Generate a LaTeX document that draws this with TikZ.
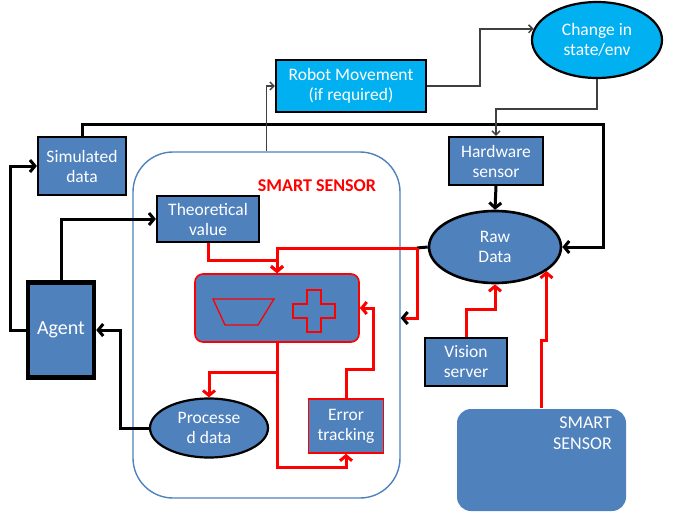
\documentclass[tikz,border=0pt]{standalone}
\usepackage{fontspec}
\setsansfont{Carlito}
\usepackage{tikz}
\usetikzlibrary{arrows.meta, positioning, calc, shapes.geometric}
\definecolor{boxblue}{HTML}{4F81BD}
\definecolor{movecyan}{HTML}{00B0F0}
\definecolor{sensred}{HTML}{FF0000}
\definecolor{wiregray}{HTML}{404040}
\definecolor{framecolor}{HTML}{4F81BD}

\begin{document}
\begin{tikzpicture}[
  x=1pt, y=-1pt,
  block/.style={
    rectangle,
    draw=black,
    line width=2.2pt,
    fill=boxblue,
    text=white,
    align=center,
    inner sep=0pt,
    font=\sffamily\fontsize{17.5}{20}\selectfont
  },
  oval/.style={block, ellipse},
  wire/.style={line width=3pt, -{Straight Barb[length=5pt,width=12pt]}},
  thinwire/.style={wiregray, line width=1.5pt, -{Straight Barb[length=4pt,width=8pt]}},
  redwire/.style={wire, sensred}
]
  \useasboundingbox (0,0) rectangle (678,512);

  % Smart sensor frame
  \node[draw=framecolor, line width=1.4pt, rounded corners=40pt, minimum width=267pt, minimum height=346pt, inner sep=0pt] (smart) at (266.5,325) {};
  \node[text=sensred, font=\sffamily\bfseries\fontsize{18}{20}\selectfont] (smartlbl) at (317,186) {SMART SENSOR};

  % Left column
  \node[block, minimum width=88pt, minimum height=58pt] (sim) at (82,166) {Simulated\\data};
  \node[block, line width=4.5pt, minimum width=66pt, minimum height=95pt, font=\sffamily\fontsize{20}{22}\selectfont] (agent) at (61,330) {Agent};

  % Inside the frame
  \node[block, minimum width=102pt, minimum height=46pt] (theory) at (208,219) {Theoretical\\value};
  \node[block, draw=sensred, line width=1.6pt, rounded corners=8pt, minimum width=164pt, minimum height=68pt] (fuse) at (277,308) {};
  \draw[sensred, line width=1.3pt] (213,299) -- (274,299) -- (258,325) -- (225,325) -- cycle;
  \draw[sensred, line width=1.3pt] (307,290) -- (321,290) -- (321,304) -- (335,304) -- (335,318) -- (321,318)
    -- (321,332) -- (307,332) -- (307,318) -- (293,318) -- (293,304) -- (307,304) -- cycle;
  \node[oval, minimum width=118pt, minimum height=59pt] (procdata) at (209,428) {Processe\\d data};
  \node[block, draw=sensred, line width=1.6pt, minimum width=75pt, minimum height=54pt] (errtrack) at (346,426) {Error\\tracking};

  % Top row
  \node[block, fill=movecyan, minimum width=150pt, minimum height=52pt] (robot) at (351,86) {Robot Movement\\(if required)};
  \node[oval, fill=movecyan, minimum width=130pt, minimum height=76pt] (change) at (597,40) {Change in\\state/env};

  % Right column
  \node[block, minimum width=94pt, minimum height=48pt] (hwsensor) at (496,161) {Hardware\\sensor};
  \node[oval, line width=2.6pt, minimum width=132pt, minimum height=72pt] (raw) at (495,247) {Raw\\Data};
  \node[block, minimum width=82pt, minimum height=48pt] (vision) at (466,362) {Vision\\server};
  \node[block, draw=none, rounded corners=14pt, minimum width=169pt, minimum height=102pt] (smalls) at (541.5,460) {};
  \node[text=white, align=right, anchor=north east, inner sep=0pt, font=\sffamily\fontsize{18}{21}\selectfont] (smallslbl) at (612,417) {SMART\\SENSOR};

  % Black connectors
  \coordinate (busr) at (603,124);
  \draw[wire] (sim.north) |- (busr) |- (raw.east);
  \draw[wire] (agent.north) |- (theory.west);
  \draw[wire] (agent.west) -- ++(-15,0) |- (sim.west);
  \draw[wire] (procdata.west) -- ++(-28,0) |- (agent.east);
  \draw[wire] (hwsensor.south) -- (raw.north);

  % Thin connectors
  \draw[thinwire] (smart.north) |- (robot.west);
  \draw[thinwire] (robot.east) -- ++(53,0) |- (change.170);
  \draw[thinwire] (change.south) -- ++(0,30) -| (hwsensor.north);

  % Red connectors
  \coordinate (rawj) at (417,248);
  \draw[line width=3pt] (raw.west) -- (rawj);
  \draw[redwire] (rawj) -| (fuse.north);
  \draw[redwire, -{Straight Barb[black,length=5pt,width=12pt]}] (rawj) |- ($(smart.east)+(0,-7)$);
  \draw[redwire] (theory.south) -- ++(0,17) -| (fuse.north);
  \draw[redwire] (fuse.south) -- ++(0,30) -| (procdata.north);
  \draw[redwire] (fuse.south) -- ++(0,125) -| (errtrack.south);
  \draw[redwire] (errtrack.north) -- ++(0,-29) -- ++(27,0) |- (fuse.east);
  \draw[redwire] (vision.north) -- ++(0,-27) -| (raw.south);
  \draw[redwire] (smalls.north) -- ++(0,-67) -| (raw.-25);
\end{tikzpicture}
\end{document}
